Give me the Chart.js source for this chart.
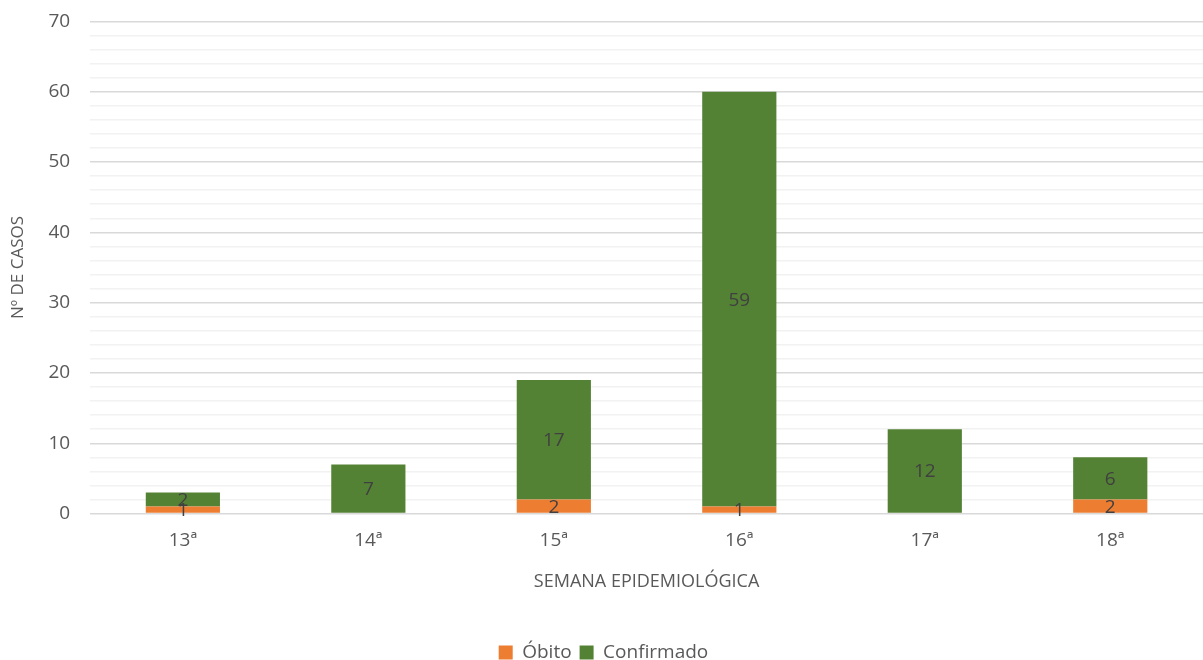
<!DOCTYPE html>
<html>
<head>
<meta charset="utf-8">
<script src="https://cdn.jsdelivr.net/npm/chart.js@4"></script>
<style>
  html, body { margin: 0; padding: 0; background: #fff; height: 660px; overflow: hidden; }
  #wrap { width: 1203px; height: 682px; margin-top: -10px; }
</style>
</head>
<body>
<div id="wrap"><canvas id="chart"></canvas></div>
<script>
// Chart data
const semanas = ["13ª", "14ª", "15ª", "16ª", "17ª", "18ª"];
const obitos = [1, 0, 2, 1, 0, 2];
const confirmados = [2, 7, 17, 59, 12, 6];

const fontFamily = "'Open Sans', 'Noto Sans', sans-serif";
const textGray = "#595959";

// Draw the value in the middle of each bar (skip zeros)
const barLabels = {
    id: "barLabels",
    afterDatasetsDraw(chart) {
        const ctx = chart.ctx;
        ctx.save();
        ctx.font = "19px " + fontFamily;
        ctx.fillStyle = "#404040";
        ctx.textAlign = "center";
        ctx.textBaseline = "middle";
        chart.data.datasets.forEach((ds, i) => {
            chart.getDatasetMeta(i).data.forEach((bar, j) => {
                const v = ds.data[j];
                if (!v) return;
                const y = (bar.y + bar.base) / 2;
                ctx.fillText(String(v), bar.x, y + 1);
            });
        });
        ctx.restore();
    }
};

new Chart(document.getElementById("chart"), {
    type: "bar",
    data: {
        labels: semanas,
        datasets: [
            {
                label: "Óbito",
                data: obitos,
                backgroundColor: "#ed7d31",
                borderWidth: 0,
                barPercentage: 0.4,
                categoryPercentage: 1.0
            },
            {
                label: "Confirmado",
                data: confirmados,
                backgroundColor: "#548235",
                borderWidth: 0,
                barPercentage: 0.4,
                categoryPercentage: 1.0
            }
        ]
    },
    options: {
        responsive: true,
        maintainAspectRatio: false,
        animation: false,
        layout: { padding: { top: 0, right: 0, left: 4, bottom: 0 } },
        plugins: {
            tooltip: { enabled: false },
            legend: {
                position: "bottom",
                labels: {
                    color: textGray,
                    font: { family: fontFamily, size: 19 },
                    boxWidth: 14,
                    boxHeight: 14,
                    padding: 8
                }
            }
        },
        scales: {
            x: {
                stacked: true,
                grid: { display: false, drawTicks: false },
                border: { display: false },
                ticks: {
                    color: textGray,
                    font: { family: fontFamily, size: 19 },
                    padding: 16
                },
                title: {
                    display: true,
                    text: "SEMANA EPIDEMIOLÓGICA",
                    color: textGray,
                    font: { family: fontFamily, size: 18 },
                    padding: { top: 3, bottom: 42 }
                }
            },
            y: {
                stacked: true,
                min: 0,
                max: 70,
                border: { display: false },
                grid: {
                    drawTicks: false,
                    lineWidth: 1.5,
                    color: c => (c.tick && c.tick.value % 10 === 0) ? "#d9d9d9" : "#f2f2f2"
                },
                ticks: {
                    stepSize: 2,
                    autoSkip: false,
                    color: textGray,
                    font: { family: fontFamily, size: 19 },
                    padding: 20,
                    callback: v => (v % 10 === 0 ? v : "")
                },
                title: {
                    display: true,
                    text: "Nº DE CASOS",
                    color: textGray,
                    font: { family: fontFamily, size: 17 },
                    padding: { bottom: 0 }
                }
            }
        }
    },
    plugins: [barLabels]
});
</script>
</body>
</html>
